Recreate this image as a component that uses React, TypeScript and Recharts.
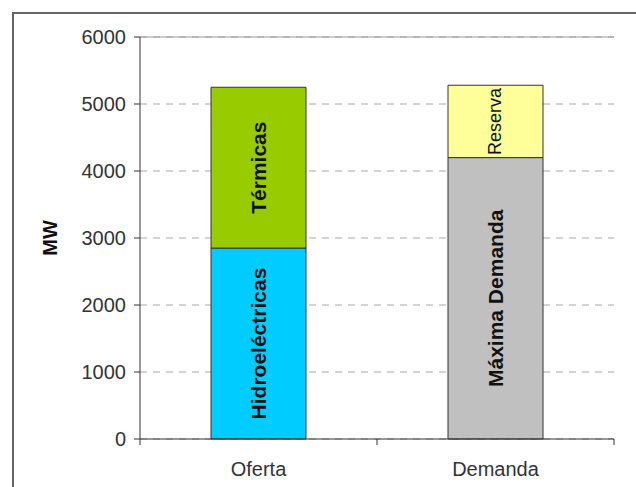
import { BarChart, Bar, XAxis, YAxis, CartesianGrid, ReferenceLine, LabelList } from "recharts";

const categories = ["Oferta", "Demanda"];
const hidroelectricas = [2850, 0];
const termicas = [2400, 0];
const maximaDemanda = [0, 4200];
const reserva = [0, 1080];
const yTicks = [0, 1000, 2000, 3000, 4000, 5000, 6000];

const data = categories.map((name, i) => ({
  name,
  hidro: hidroelectricas[i],
  term: termicas[i],
  maxd: maximaDemanda[i],
  res: reserva[i],
}));

const W = 636;
const H = 487;
const margin = { top: 37, right: 22, bottom: 0, left: 0 };
const xAxisH = 48;
const axisW = 140;
const plotBottom = H - margin.bottom - xAxisH;
const halfBand = (W - axisW - margin.right) / categories.length / 2;
const FONT = "'Liberation Sans', Arial, sans-serif";

function XTick(props: any) {
  const { x, payload, index } = props;
  return (
    <g>
      {index === 0 && (
        <line x1={x - halfBand} x2={x - halfBand} y1={plotBottom} y2={plotBottom + 6} stroke="#333" />
      )}
      <line x1={x + halfBand} x2={x + halfBand} y1={plotBottom} y2={plotBottom + 6} stroke="#333" />
      <text x={x} y={plotBottom + 30} textAnchor="middle" dominantBaseline="central" fontSize={20} fill="#333" fontFamily={FONT}>
        {payload.value}
      </text>
    </g>
  );
}

function segLabel(text: string, bold: boolean, size: number) {
  return (props: any) => {
    const { x, y, width, height, value } = props;
    if (!value) return null;
    const cx = x + width / 2;
    const cy = y + height / 2;
    return (
      <text
        x={cx}
        y={cy}
        transform={`rotate(-90, ${cx}, ${cy})`}
        textAnchor="middle"
        dominantBaseline="central"
        fontSize={size}
        fontWeight={bold ? "bold" : "normal"}
        fill="#111"
        fontFamily={FONT}
      >
        {text}
      </text>
    );
  };
}

export default function App() {
  return (
    <div style={{ position: "absolute", left: 0, top: 0, width: W, height: H, background: "#fff", overflow: "hidden" }}>
      <div
        style={{
          position: "absolute",
          left: 12,
          top: 12,
          width: 700,
          height: 600,
          borderLeft: "2px solid #666",
          borderTop: "2px solid #666",
        }}
      />
      <div style={{ position: "absolute", left: 0, top: 0 }}>
        <BarChart width={W} height={H} data={data} margin={margin} barCategoryGap={0}>
          <CartesianGrid vertical={false} stroke="#a8a8a8" strokeDasharray="7 6" />
          <ReferenceLine y={6000} stroke="#999" />
          <XAxis dataKey="name" height={xAxisH} tickLine={false} axisLine={{ stroke: "#333" }} tick={<XTick />} interval={0} />
          <YAxis
            domain={[0, 6000]}
            ticks={yTicks}
            width={axisW}
            tickSize={6}
            tickMargin={8}
            axisLine={{ stroke: "#333" }}
            tickLine={{ stroke: "#333" }}
            tick={{ fill: "#333", fontSize: 20, fontFamily: FONT }}
          />
          <YAxis yAxisId="right" orientation="right" domain={[0, 6000]} width={0} tick={false} tickLine={false} axisLine={{ stroke: "#999" }} />
          <Bar dataKey="hidro" stackId="a" fill="#00CCFF" stroke="#333" barSize={95} isAnimationActive={false}>
            <LabelList dataKey="hidro" content={segLabel("Hidroeléctricas", true, 21)} />
          </Bar>
          <Bar dataKey="term" stackId="a" fill="#99CC00" stroke="#333" barSize={95} isAnimationActive={false}>
            <LabelList dataKey="term" content={segLabel("Térmicas", true, 21)} />
          </Bar>
          <Bar dataKey="maxd" stackId="a" fill="#C0C0C0" stroke="#333" barSize={95} isAnimationActive={false}>
            <LabelList dataKey="maxd" content={segLabel("Máxima Demanda", true, 21)} />
          </Bar>
          <Bar dataKey="res" stackId="a" fill="#FFFF99" stroke="#333" barSize={95} isAnimationActive={false}>
            <LabelList dataKey="res" content={segLabel("Reserva", false, 18)} />
          </Bar>
          <text
            x={50}
            y={238}
            transform="rotate(-90, 50, 238)"
            textAnchor="middle"
            dominantBaseline="central"
            fontSize={20}
            fontWeight="bold"
            fill="#111"
            fontFamily={FONT}
          >
            MW
          </text>
        </BarChart>
      </div>
    </div>
  );
}
